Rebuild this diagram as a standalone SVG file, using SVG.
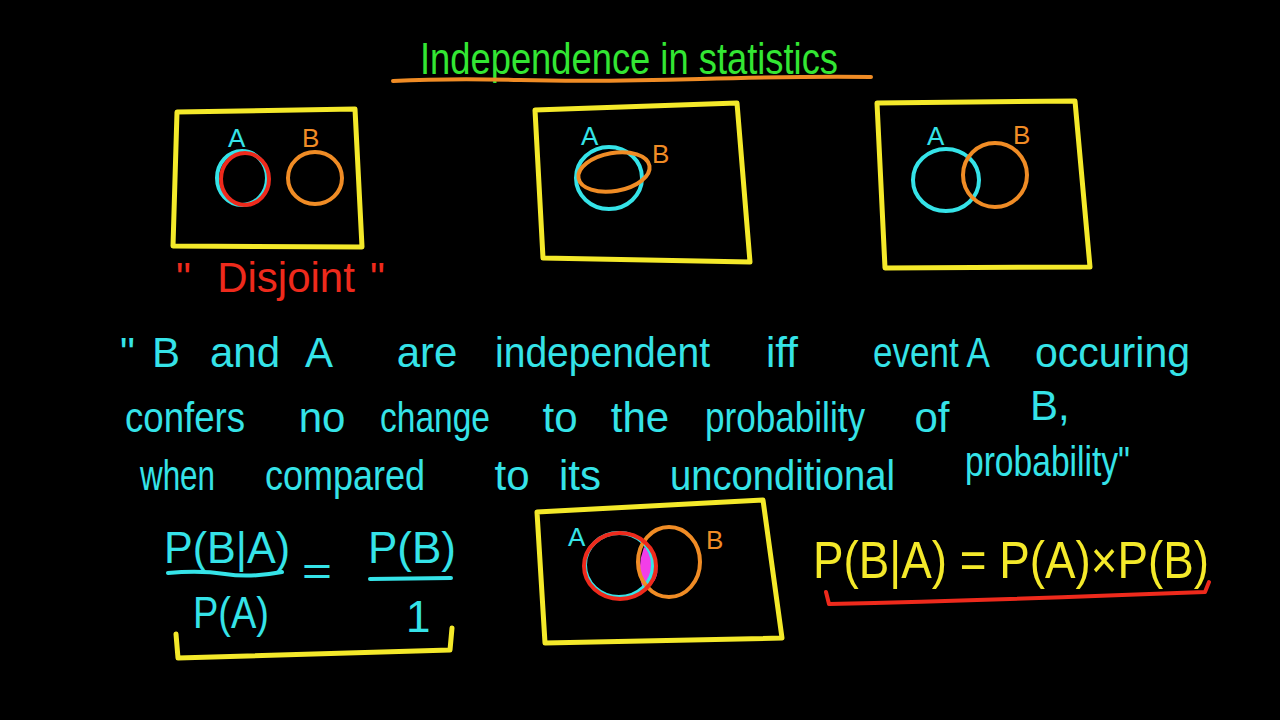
<svg xmlns="http://www.w3.org/2000/svg" width="1280" height="720" viewBox="0 0 1280 720">
<style>
.bg{fill:#000}
.box{fill:none;stroke:#f4e92a;stroke-width:5;stroke-linejoin:round;stroke-linecap:round}
.ln{fill:none;stroke-width:4;stroke-linecap:round;stroke-linejoin:round}
.cy{stroke:#35e3e8}
.or{stroke:#f08c25}
.rd{stroke:#ee2a1c}
.t{font-family:"Liberation Sans",Arial,sans-serif}
.m{text-anchor:middle}
.tc{fill:#35e3e8}
.to{fill:#f08c25}
.tr{fill:#ee2a1c}
.ty{fill:#f4e92a}
.tg{fill:#33e633}
</style>
<rect class="bg" x="0" y="0" width="1280" height="720"/>

<g id="title">
<text class="t tg" x="420" y="74" font-size="44" textLength="418" lengthAdjust="spacingAndGlyphs">Independence in statistics</text>
<path class="ln or" d="M393,81 Q450,78 520,80 T700,79 T871,77"/>
</g>

<g id="venn-disjoint">
<path class="box" d="M177,112 L355,109 L362,247 L173,246 Z"/>
<text class="t tc" x="228" y="147" font-size="26">A</text>
<text class="t to" x="302" y="147" font-size="26">B</text>
<ellipse class="ln cy" cx="242" cy="178" rx="25" ry="27"/>
<ellipse class="ln rd" cx="245" cy="179" rx="24" ry="26"/>
<ellipse class="ln or" cx="315" cy="178" rx="27" ry="26"/>
<g class="t tr" font-size="42">
<text x="176" y="292">"</text>
<text class="m" x="286" y="292">Disjoint</text>
<text x="370" y="292">"</text>
</g>
</g>

<g id="venn-subset">
<path class="box" d="M535,110 L737,103 L750,262 L543,258 Z"/>
<text class="t tc" x="581" y="145" font-size="26">A</text>
<text class="t to" x="652" y="163" font-size="26">B</text>
<ellipse class="ln cy" cx="609" cy="178" rx="33" ry="31"/>
<ellipse class="ln or" cx="614" cy="172" rx="36" ry="19" transform="rotate(-10 614 172)"/>
</g>

<g id="venn-overlap">
<path class="box" d="M877,103 L1075,101 L1090,267 L885,268 Z"/>
<text class="t tc" x="927" y="145" font-size="26">A</text>
<text class="t to" x="1013" y="144" font-size="26">B</text>
<ellipse class="ln cy" cx="946" cy="180" rx="33" ry="31"/>
<ellipse class="ln or" cx="995" cy="175" rx="32" ry="32"/>
</g>

<g id="definition">
<g class="t tc" font-size="42">
<text x="120" y="367">"</text>
<text x="152" y="367">B</text>
<text class="m" x="245" y="367">and</text>
<text x="305" y="367">A</text>
<text class="m" x="427" y="367">are</text>
<text x="495" y="367" textLength="215" lengthAdjust="spacingAndGlyphs">independent</text>
<text class="m" x="782" y="367">iff</text>
<text x="873" y="367" textLength="117" lengthAdjust="spacingAndGlyphs">event A</text>
<text x="1035" y="367" textLength="155" lengthAdjust="spacingAndGlyphs">occuring</text>
<text x="125" y="432" textLength="120" lengthAdjust="spacingAndGlyphs">confers</text>
<text class="m" x="322" y="432">no</text>
<text x="380" y="432" textLength="110" lengthAdjust="spacingAndGlyphs">change</text>
<text class="m" x="560" y="432">to</text>
<text class="m" x="640" y="432">the</text>
<text x="705" y="432" textLength="160" lengthAdjust="spacingAndGlyphs">probability</text>
<text class="m" x="932" y="432">of</text>
<text x="1030" y="420">B,</text>
<text x="140" y="490" textLength="75" lengthAdjust="spacingAndGlyphs">when</text>
<text x="265" y="490" textLength="160" lengthAdjust="spacingAndGlyphs">compared</text>
<text class="m" x="512" y="490">to</text>
<text class="m" x="580" y="490">its</text>
<text x="670" y="490" textLength="225" lengthAdjust="spacingAndGlyphs">unconditional</text>
<text x="965" y="476" textLength="165" lengthAdjust="spacingAndGlyphs">probability"</text>
</g>
</g>

<g id="fraction-equation">
<text class="t tc" x="164" y="563" font-size="44" textLength="126" lengthAdjust="spacingAndGlyphs">P(B|A)</text>
<path class="ln cy" d="M168,573 Q200,570 225,574 T282,572"/>
<text class="t tc" x="193" y="628" font-size="44" textLength="76" lengthAdjust="spacingAndGlyphs">P(A)</text>
<text class="t tc" x="302" y="585" font-size="40" textLength="30" lengthAdjust="spacingAndGlyphs">=</text>
<text class="t tc" x="368" y="563" font-size="44" textLength="88" lengthAdjust="spacingAndGlyphs">P(B)</text>
<path class="ln cy" d="M370,579 L451,578"/>
<text class="t tc" x="406" y="632" font-size="44">1</text>
<path class="box" d="M176,634 L178,658 L450,650 L452,628"/>
</g>

<g id="venn-intersection">
<path class="box" d="M537,512 L763,500 L782,638 L545,643 Z"/>
<text class="t tc" x="568" y="546" font-size="26">A</text>
<text class="t to" x="706" y="549" font-size="26">B</text>
<path d="M644,547 Q636,568 643,590 Q660,582 657,565 Q654,552 644,547 Z" fill="#f23ee8"/>
<ellipse class="ln cy" cx="619" cy="565" rx="34" ry="32"/>
<ellipse class="ln or" cx="669" cy="562" rx="31" ry="35"/>
<ellipse class="ln rd" cx="620" cy="566" rx="36" ry="33"/>
</g>

<g id="product-rule">
<text class="t ty" x="813" y="578" font-size="52" textLength="396" lengthAdjust="spacingAndGlyphs">P(B|A) = P(A)×P(B)</text>
<path class="ln rd" d="M826,592 L829,604 Q1000,600 1205,592 L1209,582"/>
</g>
</svg>
